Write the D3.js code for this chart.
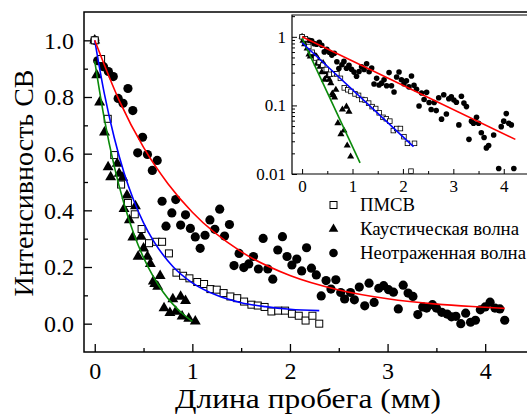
<!DOCTYPE html>
<html>
<head>
<meta charset="utf-8">
<script src="https://cdn.jsdelivr.net/npm/d3@7"></script>
</head>
<body style="margin:0;background:#fff">
<div id="chart"></div>
<script>
// ПМСВ (open squares)
let pmsvX=[0,0.065,0.133,0.2,0.27,0.34,0.41,0.48,0.556,0.63,0.69,0.76,0.837,0.905,0.97,1.05,1.12,1.185,1.25,1.32,1.39,1.46,1.53,1.605,1.67,1.74,1.81,1.88,1.95,2.02,2.09,2.16,2.23,2.3];
let pmsvY=[1.0,0.934,0.723,0.595,0.491,0.426,0.386,0.334,0.284,0.289,0.289,0.248,0.18,0.169,0.16,0.147,0.14,0.122,0.12,0.108,0.096,0.09,0.078,0.067,0.064,0.059,0.043,0.046,0.046,0.035,0.028,0.011,0.028,0.0];

// Каустическая волна (triangles)
let causX=[0,0.02,0.05,0.1,0.137,0.163,0.23,0.25,0.287,0.3,0.33,0.355,0.39,0.417,0.444,0.475,0.5,0.54,0.57,0.6,0.615,0.645,0.67,0.71,0.77,0.8,0.83,0.88,0.895,0.93,0.963,1.03];
let causY=[1.0,0.877,0.781,0.675,0.553,0.517,0.565,0.53,0.516,0.405,0.453,0.366,0.305,0.415,0.237,0.307,0.266,0.237,0.211,0.149,0.141,0.131,0.169,0.055,0.038,0.087,0.043,0.096,0.026,0.081,0.018,0.008];

// Неотраженная волна (filled circles)
let freeX=[0,0.03,0.09,0.14,0.19,0.24,0.29,0.34,0.39,0.44,0.49,0.54,0.59,0.64,0.69,0.73,0.79,0.83,0.88,0.93,0.98,1.03,1.08,1.13,1.18,1.23,1.28,1.33,1.38,
  1.427,1.479,1.527,1.578,1.626,1.677,1.725,1.773,1.824,1.875,1.923,1.97,2.02,2.07,2.12,2.17,2.22,2.27,2.32,2.37,2.42,2.47,2.52,2.56,2.62,2.66,2.71,
  2.766,2.81,2.862,2.91,2.96,3.01,3.06,3.11,3.16,3.21,3.26,3.31,3.36,3.4,3.46,3.5,3.555,3.61,3.655,3.7,3.75,3.8,3.85,3.9,3.95,4.0,4.05,4.1,4.15,4.2];
let freeY=[1.0,0.928,0.907,0.89,0.872,0.795,0.778,0.83,0.752,0.603,0.658,0.597,0.541,0.576,0.432,0.344,0.391,0.438,0.348,0.384,0.336,0.306,0.266,0.312,0.366,0.333,0.404,0.309,0.35,
  0.205,0.248,0.198,0.211,0.237,0.193,0.301,0.193,0.157,0.26,0.307,0.237,0.207,0.228,0.186,0.268,0.196,0.172,0.098,0.152,0.122,0.155,0.11,0.087,0.11,0.084,0.129,
  0.063,0.143,0.075,0.125,0.134,0.12,0.111,0.052,0.136,0.108,0.096,0.032,0.059,0.055,0.067,0.055,0.04,0.034,0.024,0.026,0.0,0.037,0.005,0.012,0.049,0.059,0.076,0.055,0.052,0.012];

// fit curves, main panel
let redFitX=[0,0.25,0.5,0.75,1,1.5,2,2.5,3,3.5,4,4.2];
let redFitY=[1.0,0.788,0.622,0.494,0.393,0.254,0.17,0.119,0.088,0.069,0.058,0.054];
let blueFitX=[0,0.1,0.2,0.3,0.4,0.5,0.6,0.8,1.0,1.25,1.5,1.75,2.0,2.3];
let blueFitY=[1.0,0.809,0.656,0.533,0.435,0.356,0.293,0.202,0.144,0.1,0.074,0.06,0.051,0.046];
let greenFitX=[0,0.1,0.2,0.3,0.4,0.5,0.6,0.7,0.8,0.9,1.0];
let greenFitY=[0.927,0.72,0.555,0.423,0.317,0.233,0.166,0.112,0.069,0.035,0.008];

// fit lines, inset (straight on log scale)
let redLogX=[0,4.23], redLogY=[1.0,0.032];
let blueLogX=[0,2.21], blueLogY=[0.82,0.025];
let greenLogX=[0,1.15], greenLogY=[0.95,0.0145];

let legendLabels=["ПМСВ","Каустическая волна","Неотраженная волна"];
let xTicks=[0,1,2,3,4];
let yTicks=[0,0.2,0.4,0.6,0.8,1.0];
let insetYTicks=[0.01,0.1,1];

const W=527,H=414;
const FONT="'Liberation Serif'";
const svg=d3.select('#chart').append('svg').attr('width',W).attr('height',H);

function pts(xs,ys){ return xs.map((x,i)=>[x,ys[i]]); }

// ---------- main panel ----------
let m={left:84,top:12,right:534,bottom:352};
let x=d3.scaleLinear().domain([-0.11,4.5]).range([m.left,m.right]);
let y=d3.scaleLinear().domain([-0.1,1.1]).range([m.bottom,m.top]);

svg.append('clipPath').attr('id','clipMain').append('rect')
  .attr('x',m.left).attr('y',m.top).attr('width',m.right-m.left).attr('height',m.bottom-m.top);

let main=svg.append('g');

// axes with inward ticks
main.append('g').attr('transform','translate(0,'+m.bottom+')')
  .call(d3.axisBottom(x).tickValues(xTicks).tickSize(-8).tickPadding(10).tickFormat(d3.format('d')));
main.append('g').attr('transform','translate(0,'+m.bottom+')')
  .call(d3.axisBottom(x).tickValues(d3.range(0.5,4.5,1)).tickSize(-4).tickFormat(''));
main.append('g').attr('transform','translate('+m.left+',0)')
  .call(d3.axisLeft(y).tickValues(yTicks).tickSize(-8).tickPadding(10).tickFormat(d3.format('.1f')));
main.append('g').attr('transform','translate('+m.left+',0)')
  .call(d3.axisLeft(y).tickValues([0.1,0.3,0.5,0.7,0.9]).tickSize(-4).tickFormat(''));
main.selectAll('.domain').remove();
main.selectAll('.tick line').attr('stroke','#000').attr('stroke-width',1.3);
main.selectAll('.tick text').attr('font-size',24).attr('fill','#000');

// frame
main.append('path')
  .attr('d','M'+m.right+','+m.top+'H'+m.left+'V'+m.bottom+'H'+m.right)
  .attr('fill','none').attr('stroke','#000').attr('stroke-width',1.5);

let plot=main.append('g').attr('clip-path','url(#clipMain)');

plot.selectAll('.tri').data(pts(causX,causY)).enter().append('path')
  .attr('d',d3.symbol().type(d3.symbolTriangle).size(52))
  .attr('transform',d=>'translate('+x(d[0])+','+y(d[1])+')')
  .attr('fill','#000');

plot.selectAll('.dot').data(pts(freeX,freeY)).enter().append('circle')
  .attr('cx',d=>x(d[0])).attr('cy',d=>y(d[1])).attr('r',4.6).attr('fill','#000');

plot.selectAll('.sq').data(pts(pmsvX,pmsvY)).enter().append('rect')
  .attr('x',d=>x(d[0])-3.5).attr('y',d=>y(d[1])-3.5).attr('width',7).attr('height',7)
  .attr('fill','#fff').attr('stroke','#000').attr('stroke-width',1);

let fitLine=d3.line().x(d=>x(d[0])).y(d=>y(d[1])).curve(d3.curveMonotoneX);
plot.append('path').attr('d',fitLine(pts(greenFitX,greenFitY))).attr('fill','none').attr('stroke','#0a8a0a').attr('stroke-width',1.6);
plot.append('path').attr('d',fitLine(pts(blueFitX,blueFitY))).attr('fill','none').attr('stroke','#0000ff').attr('stroke-width',1.6);
plot.append('path').attr('d',fitLine(pts(redFitX,redFitY))).attr('fill','none').attr('stroke','#ff0000').attr('stroke-width',1.6);

// axis titles
svg.append('text').attr('x',175).attr('y',408)
  .attr('font-size',28).attr('textLength',266).attr('lengthAdjust','spacingAndGlyphs')
  .text('Длина пробега (мм)');
svg.append('text').attr('transform','translate(33,183) rotate(-90)').attr('text-anchor','middle')
  .attr('font-size',28).text('Интенсивность СВ');

// ---------- inset ----------
let n={left:292,top:15,right:534,bottom:174};
let xi=d3.scaleLinear().domain([-0.2,4.6]).range([n.left,n.right]);
let yi=d3.scaleLog().domain([0.01,2.08]).range([n.bottom,n.top]);

let inset=svg.append('g');
inset.append('rect').attr('x',n.left).attr('y',n.top).attr('width',n.right-n.left).attr('height',n.bottom-n.top).attr('fill','#fff');
svg.append('clipPath').attr('id','clipInset').append('rect')
  .attr('x',n.left).attr('y',n.top).attr('width',n.right-n.left).attr('height',n.bottom-n.top);

inset.append('g').attr('transform','translate(0,'+n.bottom+')')
  .call(d3.axisBottom(xi).tickValues(xTicks).tickSize(-5).tickPadding(6).tickFormat(d3.format('d')));
inset.append('g').attr('transform','translate(0,'+n.bottom+')')
  .call(d3.axisBottom(xi).tickValues(d3.range(0.5,4.5,1)).tickSize(-3).tickFormat(''));
let minorLog=[];
[0.01,0.1,1].forEach(dec=>{ for(let k=2;k<=9;k++){ if(dec*k<2.08) minorLog.push(dec*k); } });
inset.append('g').attr('transform','translate('+n.left+',0)')
  .call(d3.axisLeft(yi).tickValues(insetYTicks).tickSize(-5).tickPadding(6).tickFormat(d=>String(d)));
inset.append('g').attr('transform','translate('+n.left+',0)')
  .call(d3.axisLeft(yi).tickValues(minorLog).tickSize(-3).tickFormat(''));
inset.selectAll('.domain').remove();
inset.selectAll('.tick line').attr('stroke','#000').attr('stroke-width',1);
inset.selectAll('.tick text').attr('font-size',17).attr('fill','#000');
inset.append('path')
  .attr('d','M'+n.right+','+n.top+'H'+n.left+'V'+n.bottom+'H'+n.right)
  .attr('fill','none').attr('stroke','#000').attr('stroke-width',1.2);

let iplot=inset.append('g').attr('clip-path','url(#clipInset)');
iplot.selectAll('.tri').data(pts(causX,causY).filter(d=>d[1]>0)).enter().append('path')
  .attr('d',d3.symbol().type(d3.symbolTriangle).size(22))
  .attr('transform',d=>'translate('+xi(d[0])+','+yi(d[1])+')').attr('fill','#000');
iplot.selectAll('.dot').data(pts(freeX,freeY).filter(d=>d[1]>0)).enter().append('circle')
  .attr('cx',d=>xi(d[0])).attr('cy',d=>yi(d[1])).attr('r',2.8).attr('fill','#000');
iplot.selectAll('.sq').data(pts(pmsvX,pmsvY).filter(d=>d[1]>0)).enter().append('rect')
  .attr('x',d=>xi(d[0])-2.3).attr('y',d=>yi(d[1])-2.3).attr('width',4.6).attr('height',4.6)
  .attr('fill','#fff').attr('stroke','#000').attr('stroke-width',0.8);

let logLine=d3.line().x(d=>xi(d[0])).y(d=>yi(d[1]));
iplot.append('path').attr('d',logLine(pts(greenLogX,greenLogY))).attr('fill','none').attr('stroke','#0a8a0a').attr('stroke-width',1.6);
iplot.append('path').attr('d',logLine(pts(blueLogX,blueLogY))).attr('fill','none').attr('stroke','#0000ff').attr('stroke-width',1.6);
iplot.append('path').attr('d',logLine(pts(redLogX,redLogY))).attr('fill','none').attr('stroke','#ff0000').attr('stroke-width',1.6);

// ---------- legend ----------
let leg=svg.append('g');
let rowY=[205,229,253];
let legendLen=[55,159,166];
leg.append('rect').attr('x',330).attr('y',rowY[0]-3.5).attr('width',7).attr('height',7)
  .attr('fill','#fff').attr('stroke','#000').attr('stroke-width',1);
leg.append('path').attr('d',d3.symbol().type(d3.symbolTriangle).size(40))
  .attr('transform','translate(333.5,'+rowY[1]+')').attr('fill','#000');
leg.append('circle').attr('cx',333.5).attr('cy',rowY[2]).attr('r',4.3).attr('fill','#000');
leg.selectAll('.lt').data(legendLabels).enter().append('text')
  .attr('x',360).attr('y',(d,i)=>rowY[i]+6).attr('font-size',18)
  .attr('textLength',(d,i)=>legendLen[i]).attr('lengthAdjust','spacingAndGlyphs')
  .text(d=>d);

// all texts in Times-like serif
svg.selectAll('text').style('font-family',FONT);
</script>
</body>
</html>
